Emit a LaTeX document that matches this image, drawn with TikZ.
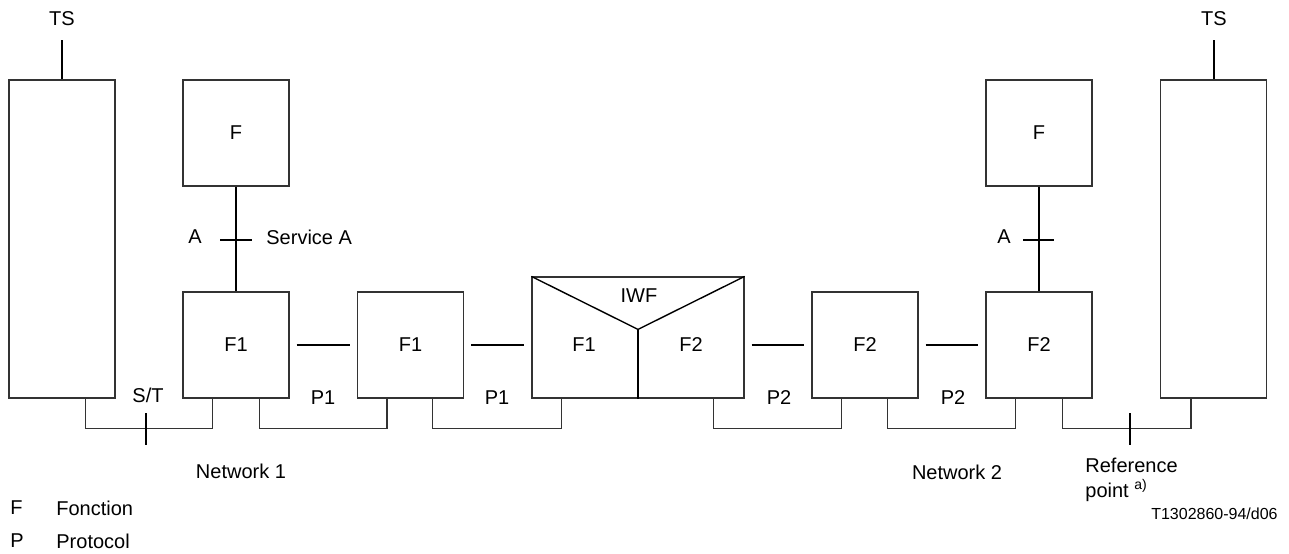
\documentclass[tikz,border=0pt]{standalone}
\usepackage{fontspec}
\setmainfont{Liberation Sans}
\usetikzlibrary{calc}
\begin{document}
\begin{tikzpicture}[x=0.5pt,y=-0.5pt,
  box/.style={draw=black!80, line width=0.6pt, minimum width=53pt, minimum height=53pt, inner sep=0pt, font=\fontsize{10}{12}\selectfont},
  tall/.style={box, minimum height=159pt},
  link/.style={draw=black, line width=1pt},
  bus/.style={draw=black!80, line width=0.6pt},
  lbl/.style={inner sep=0pt, font=\fontsize{10}{12}\selectfont},
  small/.style={inner sep=0pt, font=\fontsize{8}{10}\selectfont},
]
\useasboundingbox (0,0) rectangle (1289,553);

% terminals
\node[tall] (TSL) at (62,239) {};
\node[tall] (TSR) at (1213.5,239) {};
\node[lbl] (tsl) at (62,19) {TS};
\node[lbl] (tsr) at (1214,19) {TS};
\draw[link] (TSL.north) -- ++(0,-39);
\draw[link] (TSR.north) -- ++(0,-39);

% function boxes
\node[box] (FL) at (236,133) {F};
\node[box] (FR) at (1039,133) {F};
\node[box] (F1a) at (236,345) {F1};
\node[box] (F1b) at (410.5,345) {F1};
\node[box] (F2a) at (865,345) {F2};
\node[box] (F2b) at (1039,345) {F2};

% IWF
\node[box, minimum width=106pt, minimum height=60.5pt] (IWF) at (638,337.5) {};
\coordinate (iwfc) at ($(IWF.north)+(0,53)$);
\draw[draw=black, line width=0.7pt] (IWF.north west) -- (iwfc) -- (IWF.north east);
\draw[link] (iwfc) -- (IWF.south);
\node[lbl] (iwf) at (639,296) {IWF};
\node[lbl] (iwf1) at (584,345) {F1};
\node[lbl] (iwf2) at (691,345) {F2};

% service A links
\draw[link] (FL.south) -- (F1a.north);
\draw[link] (FR.south) -- (F2b.north);
\coordinate (aL) at (237,240);
\coordinate (aR) at (1039,240);
\draw[link] (aL) ++(-17,0) -- ++(32,0);
\draw[link] (aR) ++(-16,0) -- ++(31,0);
\node[lbl] (Al) at (195,237) {A};
\node[lbl] (Ar) at (1004,237) {A};
\node[lbl, anchor=west] (svc) at (266,237) {Service A};

% horizontal links
\draw[link, shorten <=3.5pt, shorten >=3.5pt] (F1a.east) -- (F1b.west);
\draw[link, shorten <=3.5pt, shorten >=3.5pt] (F1b.east) -- (F1b.east -| IWF.west);
\draw[link, shorten <=3.5pt, shorten >=3.5pt] (F2a.west -| IWF.east) -- (F2a.west);
\draw[link, shorten <=3.5pt, shorten >=3.5pt] (F2a.east) -- (F2b.west);

% protocol buses
\draw[bus] ($(TSL.south east)+(-30,0)$) -- ++(0,30) -| ($(F1a.south west)+(30,0)$);
\draw[bus] ($(F1a.south east)+(-30,0)$) -- ++(0,30) -| ($(F1b.south west)+(30,0)$);
\draw[bus] ($(F1b.south east)+(-32,0)$) -- ++(0,30) -| ($(IWF.south west)+(30,0)$);
\draw[bus] ($(IWF.south east)+(-31,0)$) -- ++(0,30) -| ($(F2a.south west)+(30,0)$);
\draw[bus] ($(F2a.south east)+(-31,0)$) -- ++(0,30) -| ($(F2b.south west)+(30,0)$);
\draw[bus] ($(F2b.south east)+(-30,0)$) -- ++(0,30) -| ($(TSR.south west)+(31,0)$);

% reference ticks
\coordinate (st) at (146,428);
\coordinate (rp) at (1130,428);
\draw[link] (st) ++(0,-15) -- ++(0,32);
\draw[link] (rp) ++(0,-15) -- ++(0,32);

% labels
\node[lbl] (stl) at (148,395) {S/T};
\node[lbl] (p1a) at (323,398) {P1};
\node[lbl] (p1b) at (497,398) {P1};
\node[lbl] (p2a) at (779,398) {P2};
\node[lbl] (p2b) at (953,398) {P2};
\node[lbl] (n1) at (241,471) {Network 1};
\node[lbl] (n2) at (957,472) {Network 2};
\node[lbl, anchor=base west] (ref1) at (1085,472) {Reference};
\node[lbl, anchor=base west] (ref2) at (1085,497) {point \textsuperscript{a)}};
\node[small, anchor=east] (code) at (1278,514) {T1302860-94/d06};

% legend
\node[lbl, anchor=west] (lf) at (10,508) {F};
\node[lbl, anchor=west] (lft) at (56,508) {Fonction};
\node[lbl, anchor=west] (lp) at (10,541) {P};
\node[lbl, anchor=west] (lpt) at (56,541) {Protocol};
\end{tikzpicture}
\end{document}
